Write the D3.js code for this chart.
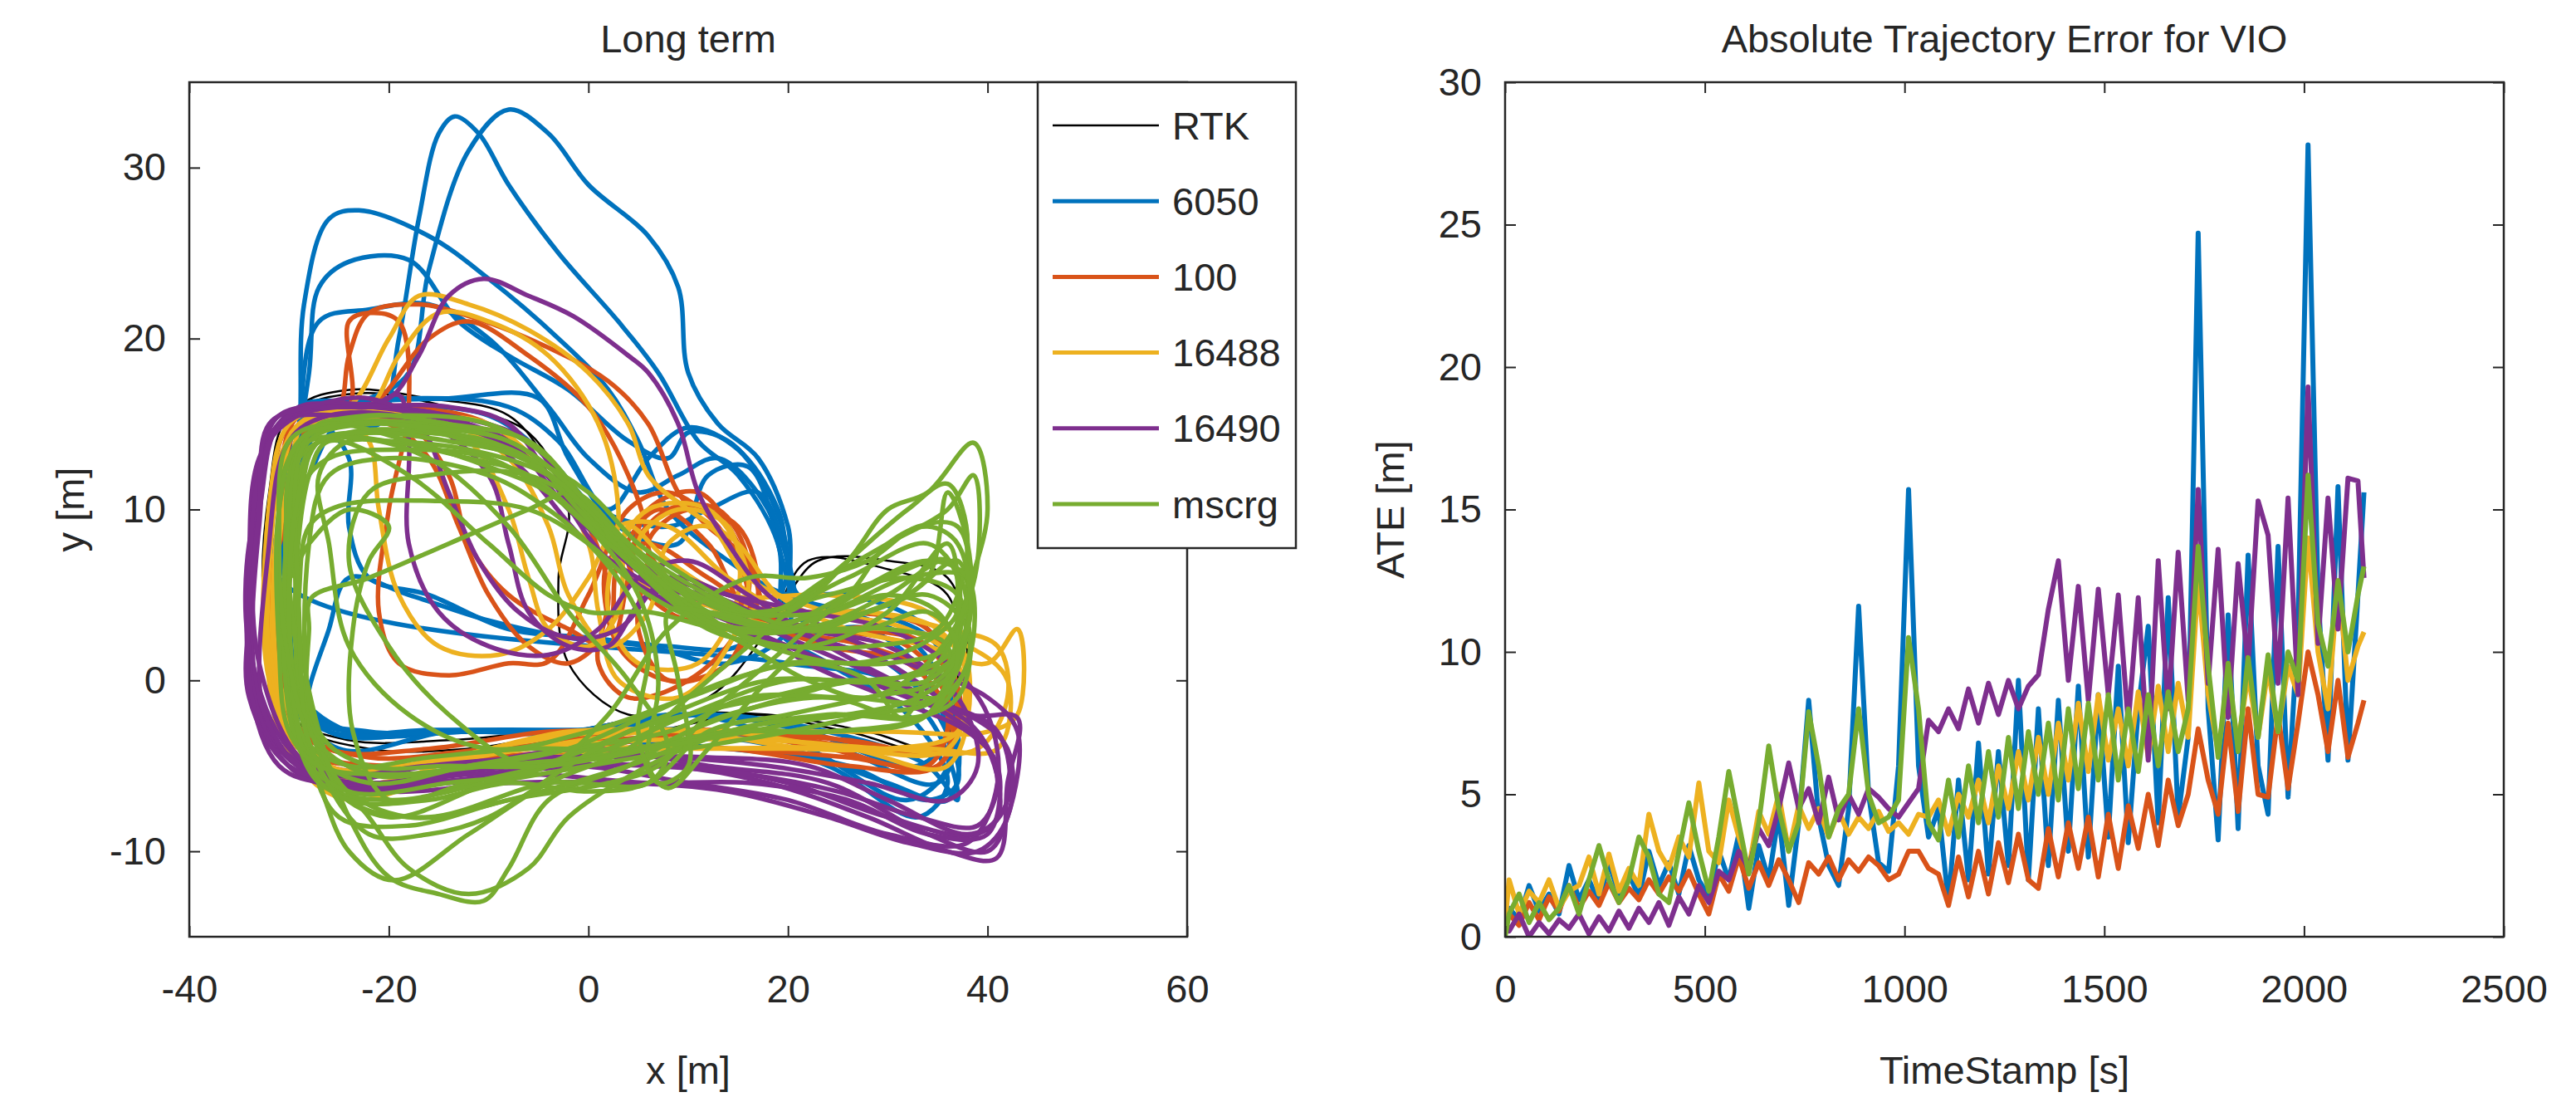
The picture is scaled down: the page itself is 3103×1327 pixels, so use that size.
<!DOCTYPE html>
<html>
<head>
<meta charset="utf-8">
<script src="https://cdn.jsdelivr.net/npm/d3@7"></script>
<style>
  body { margin: 0; background: #fff; }
  text { font-family: "Liberation Sans", Arial, sans-serif; fill: #262626; }
</style>
</head>
<body>
<div id="chart"></div>
<script>
// Series names and colours (MATLAB default order)
const seriesNames = ["RTK", "6050", "100", "16488", "16490", "mscrg"];
const seriesColors = ["#000000", "#0072BD", "#D95319", "#EDB120", "#7E2F8E", "#77AC30"];

// Left plot ticks
const xTicksLeft = [-40, -20, 0, 20, 40, 60];
const yTicksLeft = [-10, 0, 10, 20, 30];
// Right plot ticks
const xTicksRight = [0, 500, 1000, 1500, 2000, 2500];
const yTicksRight = [0, 5, 10, 15, 20, 25, 30];

// Trajectories, one list of laps per run, [x, y] in metres
const rtkLaps = [
  [[-31,12],[-29,16],[-24,17],[-16,16.5],[-8,15.5],[-3,12],[3,8],[10,5],[18,4],[23,7],[30,7],[36,6],[38,1],[36,-4],[28,-3],[18,-2],[8,-2],[-2,-3],[-12,-4],[-22,-4],[-29,-2.5],[-32,4]],
  [[-32,11],[-30,15.5],[-23,16.8],[-14,16],[-6,14.5],[-2,10],[-3,6],[-2,1],[4,-2],[12,-1],[18,3],[22,7],[30,6.5],[36,5],[37,0],[35,-4],[26,-3],[16,-2],[6,-3],[-4,-3],[-14,-3.5],[-24,-3.5],[-30,-2],[-32.5,4]]
];

const laps6050 = [
  [[-30,13],[-29,16],[-22,16.5],[-18,18],[-16,24],[-12,31],[-8,33.4],[-4,32],[0,29],[6,26],[9,23],[10,18],[13,15],[17,13],[20,9],[21,4],[28,4],[35,2],[36,-3],[33,-5],[22,-3],[10,-2],[0,-3],[-12,-3],[-24,-3],[-29,-1],[-31,5]],
  [[-28,12],[-25,15],[-21,15],[-19,20],[-17,27],[-15,32],[-13.4,33],[-11,32],[-8,29],[-3,25],[3,21],[7,18],[11,14],[15,12],[19,8],[20,3],[28,3],[34,0],[36,-5],[32,-7],[22,-4],[10,-2],[-2,-3],[-14,-3],[-25,-4],[-31,0],[-32,7]],
  [[-29,14],[-28.5,22],[-26,27],[-23,27.5],[-16,26],[-10,23.5],[-3,20],[2,17],[5,14],[8,10],[14,7],[20,5],[26,5],[34,3],[37,-2],[35,-6],[25,-4],[12,-3],[0,-3],[-12,-3],[-24,-3],[-30,0],[-31,6]],
  [[-30,10],[-28,18],[-27,23],[-24,24.5],[-18,24.6],[-13,21],[-8,19],[-2,17],[4,14],[8,13],[10,14.5],[14,14],[18,11],[20,7],[19,3],[24,1],[32,-2],[36,-6],[33,-8],[24,-5],[12,-3],[0,-3],[-14,-3],[-26,-3],[-31,1]],
  [[-30,8],[-29,15],[-27,21],[-22,21.7],[-16,22],[-10,20],[-4,16],[0,13],[5,11],[9,12],[13,13],[18,10],[20,5],[15,2],[8,2],[0,2.5],[-8,3],[-16,5],[-22,6],[-24,9],[-24,13],[-27,15],[-29,12]],
  [[-31,6],[-29,14],[-24,16],[-14,16.5],[-5,16.5],[-2,13],[3,9],[9,8],[12,12],[16,12.5],[19,8],[20,3],[14,1],[6,2],[-2,2.5],[-10,3.5],[-18,5],[-24,6],[-26,3],[-28,-2],[-24,-3],[-12,-3],[0,-3],[12,-2],[24,-3],[34,-5],[37,-7],[35,-3],[30,0],[20,1]],
  [[-31,4],[-30,13],[-26,16],[-18,16.5],[-8,16],[-3,14],[2,10],[6,13],[10,14.8],[15,13.5],[19,10],[21,5],[26,4],[33,2],[37,-3],[36,-7],[30,-6],[20,-4],[8,-3],[-4,-2.9],[-16,-2.9],[-26,-3],[-30,-1]],
  [[-30,5],[-29,12],[-26,15.5],[-20,16],[-10,15.5],[-4,13],[1,10],[8,9],[12,10],[17,11],[20,7],[22,3],[30,1],[35,-2],[37,-6],[34,-7],[26,-5],[14,-4],[2,-3.5],[-10,-3],[-22,-3],[-28,-2]]
];

const laps100 = [
  [[-30,10],[-28,15],[-25,16],[-24,19],[-22,21.5],[-17,22],[-13,21.5],[-6,20],[2,17.5],[6,15],[9,11],[12,9],[16,7],[18,4],[22,3],[30,3],[36,1],[37,-3],[32,-4],[20,-3],[8,-3],[-4,-3],[-16,-4],[-26,-4],[-31,-1],[-32,5]],
  [[-31,8],[-29,15],[-24,16],[-24,21],[-22,21.5],[-19,21],[-18,16],[-20,10],[-21,4],[-19,1],[-14,0.3],[-8,1],[-4,1.1],[0,5],[4,10],[8,11],[13,9],[16,5],[14,1],[8,0],[3,2],[2,7],[6,8],[12,6],[20,3],[28,2],[35,0],[36,-4],[28,-4],[16,-3],[4,-3],[-8,-4],[-20,-5],[-28,-4],[-31,1]],
  [[-31,12],[-29,15.5],[-22,16],[-16,20],[-12,21],[-6,19],[0,16],[4,12],[6,8],[5,3],[8,0],[14,1],[17,5],[15,9],[10,10],[6,8],[10,5],[18,4],[26,4],[34,3],[37,-1],[35,-5],[26,-5],[14,-4],[2,-4],[-10,-5],[-22,-5.5],[-29,-4],[-32,3]],
  [[-29,13],[-27,15],[-20,15],[-16,13],[-13,9],[-10,5],[-6,2],[-2,1],[2,3],[3,7],[7,10],[12,8],[16,4],[24,2],[32,1],[36,-2],[34,-5],[24,-4],[12,-3],[0,-4],[-12,-5],[-24,-6],[-30,-3],[-32,4]],
  [[-32,10],[-30,15],[-26,16],[-18,16],[-10,15],[-4,12],[0,9],[2,5],[1,1],[4,-1],[10,0],[15,3],[16,7],[13,10],[8,10],[4,7],[8,4],[16,3],[26,3],[34,2],[37,-2],[35,-5],[26,-4.5],[14,-4],[2,-4],[-10,-4.5],[-22,-5],[-29,-4],[-32,2]],
  [[-31,12],[-29,15],[-24,15.5],[-18,15],[-14,12],[-12,8],[-8,5],[-2,3],[2,2],[4,6],[6,10],[11,11],[15,8],[17,4],[24,3],[32,2],[36,-1],[35,-4],[26,-3.5],[14,-3],[2,-3.5],[-10,-4],[-22,-4.5],[-29,-3],[-32,3]]
];

const laps16488 = [
  [[-31,10],[-29,15],[-24,16],[-20,20],[-17,22.5],[-12,22],[-6,20.5],[0,18],[4,15],[6,12],[10,10],[15,8],[19,5],[26,3],[34,2],[40,1],[43,3],[43,-2],[40,-3],[30,-3],[18,-3],[6,-3],[-6,-4],[-18,-5],[-27,-5],[-31,-1]],
  [[-30,12],[-28,15.5],[-22,16],[-19,19],[-15,21.5],[-10,21],[-4,19],[1,15],[3,10],[2,4],[5,1],[11,1],[15,5],[14,9],[9,10],[5,8],[10,5],[20,3],[30,3],[38,2],[42,0],[41,-4],[34,-4],[22,-4],[10,-3],[-2,-3],[-14,-4.5],[-26,-5],[-31,0]],
  [[-32,7],[-30,14],[-25,15.5],[-22,14],[-21,10],[-19,5],[-15,2],[-9,1.5],[-4,3],[0,6],[3,9],[8,9],[14,6],[20,4],[28,4],[35,3],[38,0],[36,-4],[26,-4],[14,-3],[2,-3],[-10,-4],[-22,-6],[-29,-4],[-32,2]],
  [[-31,13],[-28,15],[-18,15],[-12,14],[-8,10],[-6,6],[-4,3],[0,2],[3,4],[4,9],[8,7],[14,5],[24,5],[34,4],[38,1],[36,-5],[26,-4],[12,-4],[0,-4],[-12,-5],[-24,-7],[-29,-5],[-32,1]],
  [[-32,10],[-30,15],[-25,16],[-18,15.5],[-10,15],[-4,12],[0,8],[1,4],[3,0],[9,-1],[14,2],[16,6],[12,10],[6,10],[3,7],[8,5],[18,4],[28,4],[36,3],[41,2],[42,-1],[39,-4],[30,-4],[18,-3.5],[6,-3.5],[-6,-4],[-18,-5],[-28,-5],[-32,0]],
  [[-31,12],[-29,15],[-22,15.5],[-14,15],[-8,13],[-4,9],[-2,5],[2,2],[6,4],[8,8],[12,9],[16,6],[24,4],[32,3],[37,1],[37,-3],[30,-4],[20,-4],[8,-4],[-4,-4.5],[-16,-5.5],[-26,-6],[-31,-3]]
];

const laps16490 = [
  [[-33,10],[-31,15],[-26,16],[-20,16.5],[-17,19],[-14,22.5],[-10.5,23.5],[-6,22.5],[-1.5,21.3],[4,19],[6,18],[9,15],[11,11],[14,8],[18,5],[24,3],[32,1],[40,-1],[43,-3],[42,-8],[40,-10],[34,-9],[24,-6],[12,-5],[0,-4],[-12,-5],[-22,-6.5],[-30,-4],[-34,2],[-34,8]],
  [[-34,6],[-33,13],[-29,16],[-22,16],[-19,16.7],[-18,14],[-18,8],[-15,4],[-10,2],[-4,1.5],[1,3],[5,6],[10,7],[16,5],[24,2],[34,-1],[41,-3],[42,-7],[39,-9],[30,-8],[20,-6],[10,-5],[0,-5],[-12,-5.5],[-24,-6],[-31,-4],[-34,1]],
  [[-33,12],[-31,15.5],[-24,16],[-14,15.5],[-6,14],[-2,11],[2,8],[8,6],[14,5],[22,4],[30,3],[36,1],[40,-2],[41,-6],[38,-9.5],[30,-9],[20,-7],[10,-6],[-2,-5],[-14,-6],[-25,-6],[-31,-4],[-34,3]],
  [[-32,8],[-30,14],[-26,15.5],[-16,15],[-10,12],[-8,8],[-6,4],[-2,2],[2,2],[6,5],[12,5],[20,3],[30,1],[38,-2],[43,-2.2],[42,-6],[40.9,-10.4],[36,-10],[28,-8],[18,-6],[8,-5],[-4,-5],[-16,-5],[-26,-5.5],[-32,-3]],
  [[-33,9],[-31,15],[-24,15.5],[-14,15],[-6,13],[0,9],[6,6],[14,4],[22,1],[30,-1],[38,-3],[41,-5],[40,-9],[34,-9],[26,-7],[16,-6],[6,-6],[-6,-5.5],[-18,-6],[-28,-5.5],[-33,-1]],
  [[-34,7],[-32,14],[-27,16],[-20,16],[-12,15],[-6,12],[0,8],[8,5],[16,3],[24,1],[32,-1],[38,-2],[42,-4],[42,-8],[39,-10],[32,-9.5],[24,-8],[14,-6.5],[4,-6],[-8,-6],[-20,-6.5],[-29,-5.5],[-33,-2]],
  [[-33,11],[-31,15],[-25,16],[-16,15.5],[-8,14],[-2,10],[4,7],[10,5],[18,3],[26,1],[34,-1],[39,-3],[41,-6],[39,-8.5],[33,-8],[25,-6.5],[16,-5.5],[6,-5],[-6,-5],[-18,-5.5],[-28,-5],[-33,1]],
  [[-34,4],[-33,12],[-30,15.5],[-22,16],[-14,16],[-8,15],[-4,12],[2,7],[10,4],[20,2],[28,0],[36,-2],[40,-4],[41,-8],[38,-9],[30,-7],[22,-5],[12,-4.5],[2,-4.5],[-10,-5],[-22,-6],[-30,-5],[-34,-1]],
  [[-33,10],[-32,15],[-28,16],[-22,16.5],[-17,15],[-14,11],[-11,7],[-7,4],[-2,2.5],[3,3],[8,6],[14,5],[22,3],[30,2],[37,-1],[39,-5],[36,-7],[28,-6],[18,-5],[8,-4.5],[-4,-4.5],[-16,-5],[-26,-6],[-31,-5],[-34,0]]
];

const lapsMscrg = [
  [[-30,8],[-29,14],[-25,15],[-16,15],[-8,14],[-3,12],[2,9],[8,6],[14,4],[20,4],[26,7],[30,10],[34,11],[38.6,13.9],[40,10],[38,5],[36,0],[34,-2],[24,-3],[14,-3],[4,-4],[-6,-4],[-16,-4.5],[-24,-5],[-29,-3]],
  [[-29,12],[-27,14],[-20,14.5],[-10,14],[-4,12],[2,9],[8,6],[16,4],[24,5],[32,6],[37,5],[38,1],[35,-1],[28,0],[20,-1],[10,-3],[4,-5],[-4,-7],[-8,-11],[-10.5,-12.9],[-15,-12.5],[-20,-11.5],[-24,-8],[-27,-3],[-29,3]],
  [[-29,5],[-28,9],[-25,10.2],[-15,10.5],[-6,10],[0,8],[6,5],[14,3],[22,3],[30,5],[36,7],[38,4],[36,1],[28,0],[18,0],[8,-2],[0,-4],[-10,-6],[-20,-8],[-26,-6],[-29,-1]],
  [[-28,3],[-27.8,4.8],[-22,6],[-14,8],[-6,10],[-1.5,11],[4,8],[10,5],[18,4],[26,6],[34,8],[37,6],[36,2],[30,1],[20,1],[10,-1],[0,-3],[-10,-4],[-18,-2],[-24,2],[-26,8],[-27,12],[-24,14],[-16,13],[-8,9],[-2,4],[4,0],[8,-4],[6,-6],[-4,-6],[-16,-8],[-24,-7],[-28,-2]],
  [[-30,6],[-29,13],[-24,14.5],[-16,14.5],[-8,13.5],[-2,11],[4,7],[12,4],[20,3],[28,4],[34,5],[38,3],[37,-1],[32,-2.2],[24,-1],[14,-2],[6,-4],[-4,-5],[-12,-6],[-20,-7],[-23.6,-3],[-23.6,3],[-22,7],[-20,9],[-24,10],[-28,8]],
  [[-31,6],[-30,13],[-26,15],[-18,15.5],[-10,15],[-4,13],[0,10],[6,6],[12,3],[20,2],[28,2],[35,3],[38,8],[36,11.5],[32,10],[26,7],[18,3],[10,-1],[4,-4],[-4,-6],[-12,-9],[-19.5,-11.7],[-24,-10],[-27,-6],[-30,-1]],
  [[-29,10],[-27,14],[-20,14],[-12,13],[-6,12],[0,9],[5,5],[7,0],[6,-5],[8,-6.3],[12,-4],[18,0],[24,3],[32,5],[37,7],[38,3],[35,-1],[26,-1],[16,-1],[8,-3],[-2,-4],[-12,-5],[-22,-6],[-28,-4],[-30,3]],
  [[-28,12],[-26,14],[-18,12],[-10,8],[-4,5],[0,4],[6,4],[14,3],[24,4],[32,6],[38,6],[37,2],[30,0],[20,0],[10,-2],[2,-4],[-6,-5],[-14,-2],[-20,2],[-24,7],[-22,11],[-16,12],[-6,12],[0,10],[6,7],[12,4],[20,3],[30,3],[36,2],[34,-2],[24,-3],[14,-3],[4,-5],[-8,-7],[-18,-8],[-25,-6],[-29,0]],
  [[-30,9],[-28,14],[-22,15],[-14,14.5],[-6,13],[-1,10],[4,7],[10,4],[18,3],[26,5],[34,7],[38,6],[38,1],[34,-2],[24,-2],[14,-3],[6,-5],[-2,-8],[-6,-11],[-12,-12.5],[-18,-11],[-22,-8],[-26,-5],[-29,1]],
  [[-29,11],[-26,13],[-18,13.5],[-10,13],[-4,11],[2,8],[10,5],[18,4],[24,6],[30,8],[36,10],[38.6,12],[39,7],[37,3],[34,0],[31.4,-2.2],[28,0],[22,1],[14,0],[6,-2],[-2,-4],[-12,-5],[-22,-5.5],[-28,-3],[-30,4]],
  [[-30,12],[-28,14],[-20,14],[-12,13.5],[-4,12],[2,9],[8,6],[14,3],[22,2],[30,4],[36,8],[37,4],[35,-1],[28,-2],[20,-3],[10,-4],[0,-5],[-10,-6],[-20,-7],[-27,-6],[-30,-1],[-30,6]],
  [[-30,10],[-28,14.5],[-22,15.5],[-14,15],[-6,14],[-1,11],[4,7],[10,4],[16,2],[22,0],[28,-1],[34,1],[38,5],[37,9],[33,9],[28,7],[22,6],[16,6],[8,3],[2,-2],[-4,-5],[-14,-6],[-24,-6.5],[-29,-4]],
  [[-29,13],[-27,15],[-20,15],[-12,14],[-5,12.5],[0,10],[5,7],[11,4],[18,2],[26,1],[33,2],[37,4],[36,7],[30,6],[24,4],[18,1],[12,-2],[7,-5],[2,-6],[-8,-7],[-18,-8.5],[-25,-8],[-28,-4],[-29,4]],
  [[-30,4],[-29,11],[-27,14],[-22,14.5],[-14,14],[-6,13],[0,11],[5,8],[10,6],[16,4],[22,3],[28,4],[34,6],[36,11],[38,8],[38,3],[35,0],[28,-1],[20,-2],[12,-3],[6,-6],[0,-6.5],[-8,-6],[-16,-7],[-24,-7],[-28,-5]],
  [[-31,8],[-30,14],[-26,15],[-18,14],[-10,12.5],[-4,11],[2,8],[8,5],[14,3],[20,3],[26,5],[30,8],[34,9],[37,8],[38,3],[34,0],[26,0],[18,-1],[10,-2],[4,-3],[-2,-5],[-10,-8],[-16,-9],[-22,-9],[-27,-5],[-30,1]],
  [[-31,2],[-31,10],[-29,14],[-24,15],[-16,14.8],[-8,14],[-2,11.5],[3,8.5],[9,6],[16,4],[24,4],[30,5],[35,4],[37,1],[33,-1],[26,-2],[18,-2.5],[10,-3.5],[0,-4.5],[-10,-5],[-20,-5.5],[-27,-5],[-30,-3]],
  [[-28,8],[-26,12],[-20,13],[-10,12],[-4,10],[0,8],[4,5],[6,2],[5,-3],[7,-6],[10,-5],[9,0],[8,4],[12,4],[20,3],[28,3],[34,4],[37,2],[34,-2],[26,-2],[16,-3],[6,-4],[-4,-5],[-14,-5],[-22,-5],[-27,-3]]
];

// ATE time stamps [s] and errors [m] per run
const timeStamps = [0,
  10,35,60,85,110,135,160,185,210,235,260,285,310,335,360,385,410,435,460,485,
  510,535,560,585,610,635,660,685,710,735,760,785,810,835,860,885,910,935,960,985,
  1010,1035,1060,1085,1110,1135,1160,1185,1210,1235,1260,1285,1310,1335,1360,1385,1410,1435,1460,1485,
  1510,1535,1560,1585,1610,1635,1660,1685,1710,1735,1760,1785,1810,1835,1860,1885,1910,1935,1960,1985,
  2010,2035,2060,2085,2110,2135,2150];

const ate6050 = [0.3,
  1.0,0.6,1.8,0.9,1.5,0.8,2.5,1.3,2.0,1.2, 2.6,1.5,2.2,1.4,3.0,1.8,2.6,1.5,3.2,2.0,
  1.4,3.0,2.0,3.6,1.0,3.2,2.0,4.3,1.1,4.0, 8.3,4.2,2.5,1.8,4.5,11.6,5.0,2.6,2.3,6.0,
  15.7,6.0,3.5,4.5,1.2,5.5,2.0,6.8,2.2,6.5, 2.5,9.0,2.0,8.0,2.5,8.3,3.0,8.8,2.8,8.5,
  3.5,9.5,3.3,8.0,10.9,4.0,11.9,4.2,7.0,24.7, 8.0,3.4,11.3,3.8,13.4,6.0,4.3,13.7,4.9,10.9,
  27.8,12.0,6.2,15.8,6.2,12.0,15.6];

const ate100 = [0.2,
  0.8,0.4,1.2,0.6,1.4,0.9,1.8,1.0,1.6,1.1, 1.9,1.2,1.7,1.3,2.0,1.5,2.1,1.6,2.3,1.5,
  0.8,2.2,1.6,2.8,1.7,2.6,1.8,2.7,2.0,1.2, 2.6,2.2,2.8,2.0,2.7,2.3,2.8,2.5,2.0,2.2,
  3.0,3.0,2.4,2.2,1.1,2.8,1.4,3.0,1.5,3.3, 1.9,3.6,2.0,1.7,3.8,2.1,4.0,2.4,4.2,2.1,
  4.3,2.4,4.6,3.1,5.0,3.2,5.5,3.9,5.0,7.3, 5.5,4.3,7.5,4.4,8.0,5.0,4.9,7.8,5.2,7.5,
  10.0,8.5,6.5,9.0,6.3,7.5,8.3];

const ate16488 = [0.5,
  2.0,0.8,1.6,1.2,2.0,1.0,1.6,1.8,2.8,1.5, 2.9,1.6,2.4,1.8,4.3,3.0,2.4,3.5,2.8,5.4,
  3.0,2.6,4.8,3.5,2.4,4.4,3.6,5.0,3.0,4.6, 3.8,4.5,3.5,4.4,3.6,4.2,3.8,4.4,3.7,4.0,
  3.6,4.3,4.2,4.8,3.6,5.0,4.2,5.5,4.0,6.0, 4.5,6.5,4.8,7.0,5.0,7.5,5.5,8.2,5.8,8.5,
  6.2,8.0,6.0,8.6,6.3,8.8,6.5,8.9,7.0,12.5, 8.5,6.5,9.0,6.8,9.2,7.0,9.4,7.2,9.5,8.5,
  14.0,10.0,8.0,12.5,9.0,10.2,10.7];

const ate16490 = [0.6,
  0.2,0.8,0.0,0.5,0.1,0.6,0.3,0.8,0.1,0.7, 0.2,0.9,0.3,1.0,0.5,1.2,0.4,1.4,0.8,1.8,
  1.2,2.3,2.0,3.0,2.4,3.8,3.2,4.5,6.1,4.5, 5.2,4.0,5.6,4.1,5.0,4.3,5.2,4.9,4.5,4.2,
  4.7,5.2,7.6,7.2,8.0,7.3,8.7,7.5,8.9,7.8, 9.0,8.0,8.8,9.2,11.5,13.2,9.0,12.3,8.3,12.2,
  8.5,12.0,7.5,11.9,6.2,13.2,8.0,13.5,8.3,15.7, 8.9,13.6,7.7,13.1,9.5,15.3,14.1,8.9,15.4,8.5,
  19.3,10.3,15.4,10.8,16.1,16.0,12.6];

const ateMscrg = [0.0,
  0.8,1.5,0.5,1.2,0.6,1.0,1.8,0.8,2.0,3.2, 2.0,1.2,2.0,3.5,2.8,1.5,1.2,3.0,4.7,3.0,
  1.6,3.5,5.8,4.0,2.2,4.0,6.7,4.5,3.0,4.0, 7.9,6.0,3.5,4.5,5.0,8.0,5.0,4.0,4.2,4.8,
  10.5,8.0,4.0,3.4,5.5,3.5,6.0,4.0,6.5,4.2, 7.0,4.5,7.2,5.0,7.5,4.8,8.0,5.2,8.2,5.5,
  8.5,5.5,8.0,5.8,8.5,6.0,8.6,6.5,8.0,13.7, 9.5,6.3,9.6,6.5,9.8,7.0,9.9,7.2,10.0,9.0,
  16.2,11.0,9.5,12.5,10.0,12.0,13.0];

const trajectories = [rtkLaps, laps6050, laps100, laps16488, laps16490, lapsMscrg];
const ateSeries = [ate6050, ate100, ate16488, ate16490, ateMscrg];

// Layout
const W = 3103, H = 1327;
const fontSize = 47;
const ink = "#262626";

const svg = d3.select("#chart").append("svg")
  .attr("width", W)
  .attr("height", H)
  .style("background", "#fff");

const leftBox = { x0: 228, x1: 1430, y0: 99, y1: 1128 };
const rightBox = { x0: 1813, x1: 3016, y0: 99, y1: 1128 };

const xL = d3.scaleLinear().domain([-40, 60]).range([leftBox.x0, leftBox.x1]);
const yL = d3.scaleLinear().domain([-15, 35]).range([leftBox.y1, leftBox.y0]);
const xR = d3.scaleLinear().domain([0, 2500]).range([rightBox.x0, rightBox.x1]);
const yR = d3.scaleLinear().domain([0, 30]).range([rightBox.y1, rightBox.y0]);

const defs = svg.append("defs");
[["clipL", leftBox], ["clipR", rightBox]].forEach(([id, b]) => {
  defs.append("clipPath").attr("id", id)
    .append("rect")
    .attr("x", b.x0).attr("y", b.y0)
    .attr("width", b.x1 - b.x0).attr("height", b.y1 - b.y0);
});

// plain ASCII tick labels, no thousands separator
const plain = d => String(d);

// Draw box axes like MATLAB: labels bottom/left, inward ticks on all four sides
function drawAxes(box, xs, ys, xt, yt) {
  const g = svg.append("g");
  g.append("g")
    .attr("transform", `translate(0,${box.y1})`)
    .call(d3.axisBottom(xs).tickValues(xt).tickFormat(plain).tickSizeInner(-13).tickSizeOuter(0).tickPadding(46));
  g.append("g")
    .attr("transform", `translate(0,${box.y0})`)
    .call(d3.axisTop(xs).tickValues(xt).tickSizeInner(-13).tickSizeOuter(0).tickFormat(""));
  g.append("g")
    .attr("transform", `translate(${box.x0},0)`)
    .call(d3.axisLeft(ys).tickValues(yt).tickFormat(plain).tickSizeInner(-13).tickSizeOuter(0).tickPadding(28));
  g.append("g")
    .attr("transform", `translate(${box.x1},0)`)
    .call(d3.axisRight(ys).tickValues(yt).tickSizeInner(-13).tickSizeOuter(0).tickFormat(""));
  g.selectAll(".domain").remove();
  g.selectAll(".tick line").attr("stroke", ink).attr("stroke-width", 2);
  g.selectAll(".tick text")
    .attr("fill", ink)
    .style("font-size", fontSize + "px")
    .style("font-family", '"Liberation Sans", Arial, sans-serif');
  g.append("rect")
    .attr("x", box.x0).attr("y", box.y0)
    .attr("width", box.x1 - box.x0).attr("height", box.y1 - box.y0)
    .attr("fill", "none").attr("stroke", ink).attr("stroke-width", 2.5);
}

// Left: trajectories
const lapLine = d3.line()
  .x(d => xL(d[0]))
  .y(d => yL(d[1]))
  .curve(d3.curveCatmullRomClosed.alpha(0.5));

const gLeft = svg.append("g").attr("clip-path", "url(#clipL)");
trajectories.forEach((laps, i) => {
  gLeft.append("g")
    .selectAll("path")
    .data(laps)
    .join("path")
    .attr("d", lapLine)
    .attr("fill", "none")
    .attr("stroke", seriesColors[i])
    .attr("stroke-width", i === 0 ? 2.5 : 5.5)
    .attr("stroke-linejoin", "round");
});
drawAxes(leftBox, xL, yL, xTicksLeft, yTicksLeft);

// Right: ATE over time
const ateLine = d3.line()
  .x((d, i) => xR(timeStamps[i]))
  .y(d => yR(d));

const gRight = svg.append("g").attr("clip-path", "url(#clipR)");
ateSeries.forEach((vals, i) => {
  gRight.append("path")
    .datum(vals)
    .attr("d", ateLine)
    .attr("fill", "none")
    .attr("stroke", seriesColors[i + 1])
    .attr("stroke-width", 6)
    .attr("stroke-linejoin", "round");
});
drawAxes(rightBox, xR, yR, xTicksRight, yTicksRight);

// Titles and axis labels
function label(x, y, txt, rotate) {
  const t = svg.append("text")
    .attr("text-anchor", "middle")
    .attr("dominant-baseline", "central")
    .style("font-size", fontSize + "px")
    .text(txt);
  if (rotate) t.attr("transform", `translate(${x},${y}) rotate(-90)`);
  else t.attr("x", x).attr("y", y);
}
label((leftBox.x0 + leftBox.x1) / 2, 46, "Long term");
label((rightBox.x0 + rightBox.x1) / 2, 46, "Absolute Trajectory Error for VIO");
label((leftBox.x0 + leftBox.x1) / 2, 1288, "x [m]");
label((rightBox.x0 + rightBox.x1) / 2, 1288, "TimeStamp [s]");
label(84, (leftBox.y0 + leftBox.y1) / 2, "y [m]", true);
label(1674, (rightBox.y0 + rightBox.y1) / 2, "ATE [m]", true);

// Legend (overhangs the right edge of the left axes)
const legend = svg.append("g");
legend.append("rect")
  .attr("x", 1250).attr("y", 99)
  .attr("width", 311).attr("height", 561)
  .attr("fill", "#fff").attr("stroke", ink).attr("stroke-width", 2.5);
seriesNames.forEach((name, i) => {
  const y = 151 + i * 91.2;
  legend.append("line")
    .attr("x1", 1268).attr("x2", 1396)
    .attr("y1", y).attr("y2", y)
    .attr("stroke", seriesColors[i])
    .attr("stroke-width", i === 0 ? 2.5 : 5);
  legend.append("text")
    .attr("x", 1412).attr("y", y)
    .attr("dominant-baseline", "central")
    .style("font-size", fontSize + "px")
    .text(name);
});
</script>
</body>
</html>
